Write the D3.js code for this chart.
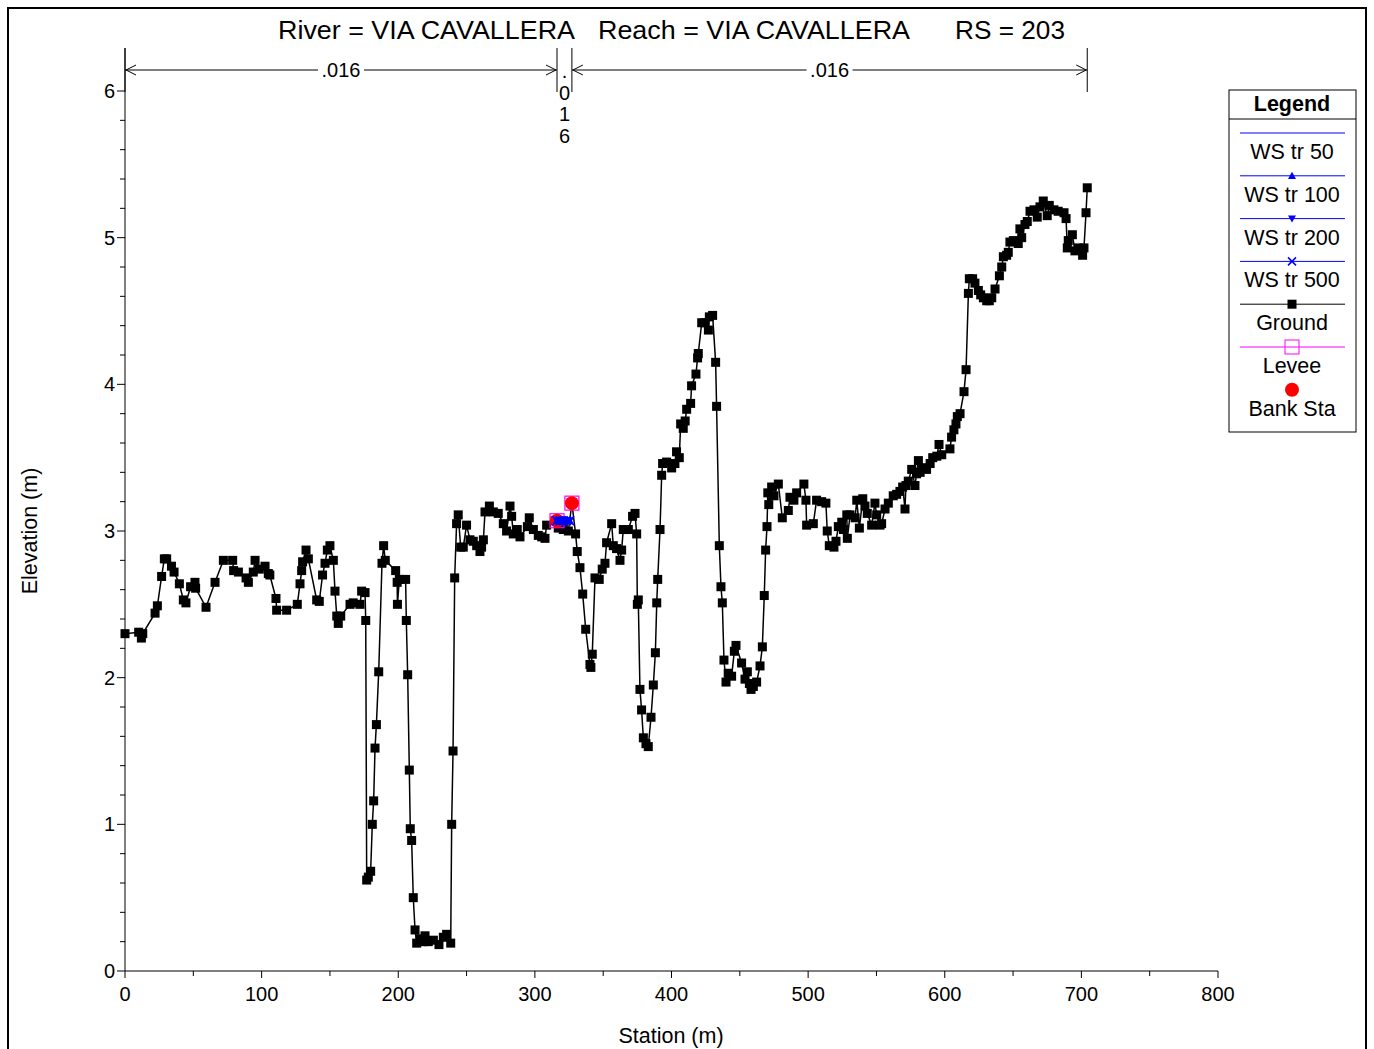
<!DOCTYPE html>
<html><head><meta charset="utf-8">
<script src="https://cdn.jsdelivr.net/npm/d3@7"></script>
<style>
html,body{margin:0;padding:0;background:#fff;}
svg{display:block;font-family:"Liberation Sans",Arial,sans-serif;}
</style></head>
<body>
<svg id="chart" width="1374" height="1049"></svg>
<script>
// ---- data ----
const titleParts = ["River = VIA CAVALLERA", "Reach = VIA CAVALLERA", "RS = 203"];
const groundStation = [0,10,12,13,22,23.7,26.8,28.8,30.5,34,35.9,39.8,42.7,44.6,48,51.2,51.7,59.3,65.9,72,78.8,79.5,83,88.6,90.3,93.9,95.2,98.3,102.5,104.9,106,110.5,111,118.3,126.1,128.1,129.3,130,132.5,134.2,140.3,142.2,144.6,146.4,148.1,150,152.5,153.7,155,156.1,157.9,164.7,167,172,173.2,175.7,176.2,176.9,178.1,179.8,181,182,183,184,185.7,188.1,189.3,190.5,198.1,199.2,199.4,200.8,205.4,205.9,206.9,208.1,208.8,209.8,211,212.3,213.5,215.9,218,219.6,222,225.7,229.8,233,235.4,238.4,239.1,240.1,241.3,242.7,243.9,245.7,247.6,250,252.5,254.9,257.4,259.8,261,262.3,263.5,266.7,269.6,273.2,276.9,279.3,281.8,283,284.2,287.1,289.1,294.5,295.9,298.9,302.5,305,307.4,308.6,314.7,316.2,317.1,320.8,324.5,327.1,329.8,331,333,335,337.2,340.3,341,342,344,347.1,349.3,351.3,352.5,356.2,357.4,359.8,362.3,363.5,364.7,368.4,371.5,373.3,374.5,375,375.7,376.9,378.1,379.4,381.3,383,385,386.7,388.2,389.2,389.9,391.6,392.8,393.5,396.4,400.1,402.5,403.7,405.7,406.7,408.6,410,411.1,414,414.7,417.9,419.1,419.6,422.1,424.5,427,427.7,430.1,432.3,433,435,436.2,437.2,438.4,439.9,441.5,444,446,447.2,451.3,453.8,455.5,457,458.2,459.9,462.3,464.8,466.5,467.9,468.9,469.9,470.5,471.2,473.3,475,478.2,481.1,485.5,486.7,489.6,491.6,496.9,498.4,498.9,503.8,506.2,509.9,513,514,515.5,518.9,520.4,522.1,524.6,525.8,528.3,528.7,530.7,534.4,535.6,537.5,540,541.6,543.3,546.5,548.9,550.2,552.6,553.8,556.3,558.7,562.3,564.8,567.2,569.2,570.9,571.6,573.3,575.8,578.2,579.4,580.7,582,583.1,585.6,586.7,589.3,591.2,594.2,595.8,597.8,603.8,605,606.7,608.2,609.2,611.2,614.1,615.6,617.3,618,620.4,622.1,624.6,626.3,628.3,630.7,632.6,634.4,636.8,640,641.7,642.9,645.3,646.5,647.7,650.2,653.8,655,656.3,658.7,660.4,662.4,665.3,667.7,669.7,672.1,675,676.5,679.9,683,687.3,688.8,689.7,690.4,693.4,695.3,697.8,700.9,701.9,703.4,704.3];
const groundElev = [2.30,2.31,2.27,2.30,2.44,2.49,2.69,2.81,2.81,2.76,2.72,2.64,2.53,2.51,2.62,2.65,2.61,2.48,2.65,2.80,2.80,2.73,2.72,2.68,2.65,2.72,2.80,2.74,2.76,2.71,2.70,2.54,2.46,2.46,2.50,2.64,2.73,2.79,2.87,2.81,2.53,2.52,2.70,2.78,2.87,2.90,2.80,2.59,2.42,2.37,2.42,2.50,2.51,2.50,2.59,2.58,2.39,0.62,0.64,0.68,1.00,1.16,1.52,1.68,2.04,2.78,2.90,2.80,2.73,2.65,2.50,2.67,2.67,2.39,2.02,1.37,0.97,0.89,0.50,0.28,0.19,0.22,0.20,0.24,0.20,0.21,0.18,0.23,0.25,0.19,1.00,1.50,2.68,3.05,3.11,2.89,2.89,3.04,2.94,2.93,2.90,2.86,2.89,2.94,3.13,3.17,3.13,3.12,3.05,3.00,3.17,3.10,2.98,3.01,2.96,3.03,3.09,3.01,2.97,2.96,2.95,3.04,3.07,3.07,3.02,3.01,3.00,3.19,2.98,2.86,2.75,2.57,2.33,2.09,2.07,2.16,2.68,2.67,2.74,2.78,2.92,3.05,2.90,2.88,2.80,2.87,3.01,3.01,3.10,3.12,2.98,2.50,2.53,1.92,1.78,1.59,1.55,1.53,1.73,1.95,2.17,2.51,2.67,3.01,3.38,3.46,3.47,3.43,3.46,3.54,3.50,3.73,3.70,3.75,3.83,3.87,3.99,4.07,4.18,4.21,4.42,4.42,4.37,4.46,4.47,4.15,3.85,2.90,2.62,2.51,2.12,1.97,2.03,2.01,2.18,2.22,2.10,1.99,2.04,1.96,1.92,1.94,1.97,2.08,2.21,2.56,2.87,3.03,3.26,3.18,3.30,3.24,3.32,3.09,3.14,3.23,3.21,3.26,3.32,3.21,3.04,3.05,3.21,3.20,3.19,3.00,2.90,2.89,2.93,3.03,3.06,3.01,3.11,2.95,3.11,3.09,3.21,3.02,3.22,3.17,3.12,3.04,3.19,3.11,3.04,3.05,3.15,3.19,3.24,3.25,3.27,3.30,3.15,3.31,3.34,3.42,3.31,3.39,3.48,3.40,3.43,3.43,3.42,3.46,3.50,3.51,3.59,3.52,3.56,3.64,3.69,3.73,3.78,3.80,3.95,4.10,4.62,4.72,4.72,4.69,4.64,4.61,4.59,4.57,4.57,4.59,4.65,4.74,4.80,4.87,4.88,4.90,4.97,4.98,4.96,5.06,5.00,5.09,5.11,5.18,5.19,5.14,5.21,5.25,5.15,5.22,5.19,5.18,5.17,5.13,4.93,4.98,5.02,4.91,4.93,4.88,4.93,5.17,5.34];
const bankStation = [316.2, 327.1];
const bankElev = [3.07, 3.19];
const wsNames = ["WS tr 50","WS tr 100","WS tr 200","WS tr 500"];
const wsElev = [3.07, 3.07, 3.07, 3.07];
const wsStart = [316.2, 316.2, 316.2, 316.2];
const wsEnd = [325.4, 325.4, 325.4, 325.4];
const manningN = [".016", ".016", ".016"];
const manningBreaks = [0, 316.2, 327.1, 704.3];
const xTicks = [0,100,200,300,400,500,600,700,800];
const yTicks = [0,1,2,3,4,5,6];
const legendItems = ["WS tr 50","WS tr 100","WS tr 200","WS tr 500","Ground","Levee","Bank Sta"];

// ---- drawing ----
const svg = d3.select("#chart");
const FONT = 20, LFONT = 21.5;
const x = d3.scaleLinear().domain([0, 800]).range([125, 1218]);
const y = d3.scaleLinear().domain([0, 6]).range([971, 91]);

// outer frame
svg.append("rect").attr("x", 8).attr("y", 8).attr("width", 1358).attr("height", 1060)
  .attr("fill", "none").attr("stroke", "#000").attr("stroke-width", 2);

// title
const tX = [278, 598, 955], tW = [297, 312, 110];
titleParts.forEach((t, i) => {
  svg.append("text").attr("x", tX[i]).attr("y", 39).attr("font-size", 25)
    .attr("textLength", tW[i]).attr("lengthAdjust", "spacingAndGlyphs").text(t);
});

// axes
const xAxisG = svg.append("g").attr("transform", "translate(0,971)");
xAxisG.append("line").attr("x1", x(0)).attr("x2", x(800)).attr("stroke", "#000");
d3.range(0, 801, 50).forEach(v => {
  const major = v % 100 === 0;
  xAxisG.append("line").attr("x1", x(v)).attr("x2", x(v)).attr("y1", 0).attr("y2", major ? 7 : 5).attr("stroke", "#000");
});
xTicks.forEach(v => {
  xAxisG.append("text").attr("x", x(v)).attr("y", 30).attr("text-anchor", "middle").attr("font-size", FONT).text(v);
});

const yAxisG = svg.append("g").attr("transform", "translate(125,0)");
yAxisG.append("line").attr("y1", y(0)).attr("y2", 48).attr("stroke", "#000");
d3.range(0, 31).forEach(i => {
  const v = i * 0.2;
  const major = i % 5 === 0;
  yAxisG.append("line").attr("x1", major ? -8 : -5).attr("x2", 0).attr("y1", y(v)).attr("y2", y(v)).attr("stroke", "#000");
});
yTicks.forEach(v => {
  yAxisG.append("text").attr("x", -10).attr("y", y(v) + 7).attr("text-anchor", "end").attr("font-size", FONT).text(v);
});

svg.append("text").attr("x", 671).attr("y", 1043).attr("text-anchor", "middle").attr("font-size", LFONT).text("Station (m)");
svg.append("text").attr("transform", "translate(37,531) rotate(-90)").attr("text-anchor", "middle").attr("font-size", LFONT).text("Elevation (m)");

// Manning n annotations
const mg = svg.append("g").attr("stroke", "#000").attr("fill", "none");
manningBreaks.forEach(s => {
  mg.append("line").attr("x1", x(s)).attr("x2", x(s)).attr("y1", 48).attr("y2", 92).attr("stroke-width", 1);
});
function arrowSeg(s0, s1, label) {
  const a = x(s0), b = x(s1), yy = 70;
  mg.append("line").attr("x1", a).attr("x2", b).attr("y1", yy).attr("y2", yy);
  mg.append("path").attr("d", `M${a+11},${yy-5}L${a+1},${yy}L${a+11},${yy+5}`);
  mg.append("path").attr("d", `M${b-11},${yy-5}L${b-1},${yy}L${b-11},${yy+5}`);
  const cx = (a + b) / 2;
  svg.append("rect").attr("x", cx - 23).attr("y", yy - 11).attr("width", 46).attr("height", 22).attr("fill", "#fff");
  svg.append("text").attr("x", cx).attr("y", yy + 7).attr("text-anchor", "middle").attr("font-size", FONT).text(label);
}
arrowSeg(manningBreaks[0], manningBreaks[1], manningN[0]);
arrowSeg(manningBreaks[2], manningBreaks[3], manningN[2]);
const midX = (x(manningBreaks[1]) + x(manningBreaks[2])) / 2;
manningN[1].split("").forEach((ch, i) => {
  svg.append("text").attr("x", midX).attr("y", 78 + i * 21.5).attr("text-anchor", "middle").attr("font-size", FONT).text(ch);
});

// ground
const ground = groundStation.map((s, i) => [s, groundElev[i]]);
svg.append("path").datum(ground)
  .attr("d", d3.line().x(d => x(d[0])).y(d => y(d[1])))
  .attr("fill", "none").attr("stroke", "#000").attr("stroke-width", 1.5);
svg.append("g").selectAll("rect").data(ground).join("rect")
  .attr("x", d => x(d[0]) - 4.5).attr("y", d => y(d[1]) - 4.5)
  .attr("width", 9).attr("height", 9).attr("fill", "#000");

// levee squares and bank stations
bankStation.forEach((s, i) => {
  svg.append("rect").attr("x", x(s) - 7).attr("y", y(bankElev[i]) - 7).attr("width", 14).attr("height", 14)
    .attr("fill", "none").attr("stroke", "#ff00ff").attr("stroke-width", 1.2);
  svg.append("circle").attr("cx", x(s)).attr("cy", y(bankElev[i])).attr("r", 7).attr("fill", "#ff0000");
});

// water surfaces
const blue = "#0000ff";
function marker(g, kind, cx, cy, s) {
  if (kind === 1) g.append("path").attr("d", `M${cx},${cy-s}L${cx+s},${cy+s*0.8}L${cx-s},${cy+s*0.8}Z`).attr("fill", blue);
  else if (kind === 2) g.append("path").attr("d", `M${cx},${cy+s}L${cx+s},${cy-s*0.8}L${cx-s},${cy-s*0.8}Z`).attr("fill", blue);
  else if (kind === 3) g.append("path").attr("d", `M${cx-s},${cy-s}L${cx+s},${cy+s}M${cx-s},${cy+s}L${cx+s},${cy-s}`).attr("stroke", blue).attr("stroke-width", 1.5);
}
wsNames.forEach((n, i) => {
  const g = svg.append("g");
  g.append("line").attr("x1", x(wsStart[i])).attr("x2", x(wsEnd[i])).attr("y1", y(wsElev[i])).attr("y2", y(wsElev[i]))
    .attr("stroke", blue).attr("stroke-width", 1.5);
  if (i > 0) {
    const n2 = 5;
    for (let k = 0; k < n2; k++) {
      const s = wsStart[i] + (wsEnd[i] - wsStart[i]) * k / (n2 - 1);
      marker(g, i, x(s), y(wsElev[i]), 4.5);
    }
  }
});

// legend
const L = svg.append("g");
L.append("rect").attr("x", 1229).attr("y", 90).attr("width", 127).attr("height", 342)
  .attr("fill", "#fff").attr("stroke", "#000").attr("stroke-width", 1);
L.append("line").attr("x1", 1229).attr("x2", 1356).attr("y1", 119).attr("y2", 119).attr("stroke", "#000");
L.append("text").attr("x", 1292).attr("y", 111).attr("text-anchor", "middle").attr("font-size", LFONT).attr("font-weight", "bold").text("Legend");
const lx0 = 1240, lx1 = 1345, lcx = 1292;
legendItems.forEach((name, i) => {
  const ly = 133 + i * 42.8;
  if (i < 4) {
    L.append("line").attr("x1", lx0).attr("x2", lx1).attr("y1", ly).attr("y2", ly).attr("stroke", blue).attr("stroke-width", 1);
    if (i > 0) marker(L, i, lcx, ly, 4);
  } else if (i === 4) {
    L.append("line").attr("x1", lx0).attr("x2", lx1).attr("y1", ly).attr("y2", ly).attr("stroke", "#000").attr("stroke-width", 1);
    L.append("rect").attr("x", lcx - 4.5).attr("y", ly - 4.5).attr("width", 9).attr("height", 9).attr("fill", "#000");
  } else if (i === 5) {
    L.append("line").attr("x1", lx0).attr("x2", lx1).attr("y1", ly).attr("y2", ly).attr("stroke", "#ff00ff").attr("stroke-width", 1);
    L.append("rect").attr("x", lcx - 7).attr("y", ly - 7).attr("width", 14).attr("height", 14).attr("fill", "none").attr("stroke", "#ff00ff");
  } else {
    L.append("circle").attr("cx", lcx).attr("cy", ly).attr("r", 7).attr("fill", "#ff0000");
  }
  L.append("text").attr("x", lcx).attr("y", ly + 26).attr("text-anchor", "middle").attr("font-size", LFONT).text(name);
});
</script>
</body></html>
